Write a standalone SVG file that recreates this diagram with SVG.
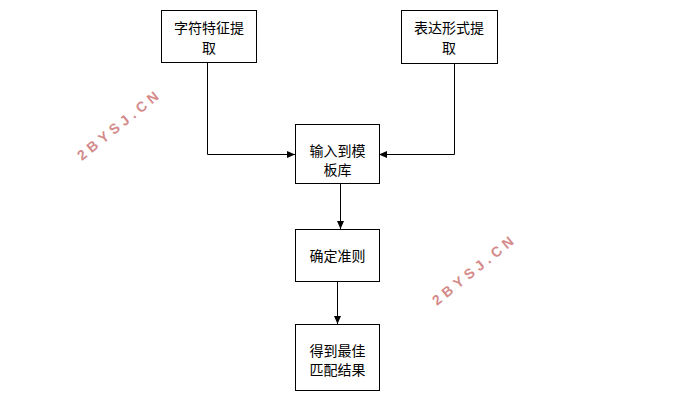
<svg xmlns="http://www.w3.org/2000/svg" width="686" height="410" viewBox="0 0 686 410">
<style>
.box{fill:#fff;stroke:#000;stroke-width:1}
.t{font-family:"Liberation Sans","Noto Sans CJK SC",sans-serif;font-size:14px;fill:#000;text-anchor:middle}
.c{fill:none;stroke:#000;stroke-width:1}
.wm{font-family:"Liberation Sans",sans-serif;font-weight:bold;font-size:14px;fill:#d48a8a;letter-spacing:4.5px}
</style>
<defs>
<marker id="ah" markerWidth="8" markerHeight="8" refX="8" refY="4" orient="auto" markerUnits="userSpaceOnUse">
<path d="M0,0.5 L8,4 L0,7.5 Z" fill="#000"/>
</marker>
</defs>
<rect width="686" height="410" fill="#fff"/>
<g id="connectors">
<path class="c" d="M207.5,62 V154.5 H295" marker-end="url(#ah)"/>
<path class="c" d="M454.5,63 V154.5 H379" marker-end="url(#ah)"/>
<path class="c" d="M340.5,183 V229" marker-end="url(#ah)"/>
<path class="c" d="M337.5,281 V324" marker-end="url(#ah)"/>
</g>
<g id="n1"><rect class="box" x="161.5" y="10.5" width="95" height="52"/><text class="t" x="209" y="33">字符特征提</text><text class="t" x="209" y="53">取</text></g>
<g id="n2"><rect class="box" x="401.5" y="10.5" width="96" height="53"/><text class="t" x="449" y="33">表达形式提</text><text class="t" x="449" y="53">取</text></g>
<g id="n3"><rect class="box" x="295.5" y="124.5" width="84" height="59"/><text class="t" x="337.5" y="156">输入到模</text><text class="t" x="337.5" y="175">板库</text></g>
<g id="n4"><rect class="box" x="295.5" y="229.5" width="84" height="52"/><text class="t" x="337.5" y="261">确定准则</text></g>
<g id="n5"><rect class="box" x="295.5" y="324.5" width="84" height="66"/><text class="t" x="337.5" y="356">得到最佳</text><text class="t" x="337.5" y="375">匹配结果</text></g>
<text class="wm" transform="translate(82,161) rotate(-39)">2BYSJ.CN</text>
<text class="wm" transform="translate(437,306) rotate(-39)">2BYSJ.CN</text>
</svg>
